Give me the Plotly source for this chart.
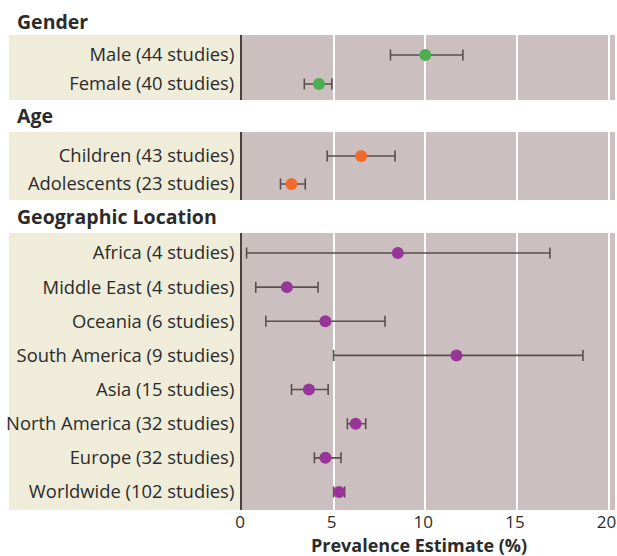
import plotly.graph_objects as go

# ---------------- data ----------------
gender_labels = ["Male (44 studies)", "Female (40 studies)"]
gender_est = [10.0, 4.2]
gender_lo = [8.1, 3.4]
gender_hi = [12.05, 4.9]

age_labels = ["Children (43 studies)", "Adolescents (23 studies)"]
age_est = [6.5, 2.7]
age_lo = [4.65, 2.1]
age_hi = [8.35, 3.45]

geo_labels = ["Africa (4 studies)", "Middle East (4 studies)", "Oceania (6 studies)",
              "South America (9 studies)", "Asia (15 studies)", "North America (32 studies)",
              "Europe (32 studies)", "Worldwide (102 studies)"]
geo_est = [8.5, 2.45, 4.55, 11.7, 3.65, 6.2, 4.55, 5.3]
geo_lo = [0.25, 0.75, 1.3, 5.0, 2.7, 5.75, 3.95, 5.0]
geo_hi = [16.8, 4.15, 7.8, 18.6, 4.7, 6.75, 5.4, 5.6]

section_titles = ["Gender", "Age", "Geographic Location"]
x_ticks = [0, 5, 10, 15, 20]
x_title = "Prevalence Estimate (%)"

# ---------------- styling ----------------
W, H = 617, 556
ML, MR, MT, MB = 242, 2, 35, 46
FONT = "Open Sans"
TXT = "#2b2b2b"
PLOT_BG = "#cbbfbf"
BEIGE = "#efecd9"
ERR = "#5a4e4e"
GREEN = "#4cae50"
ORANGE = "#f06a2c"
PURPLE = "#983598"

groups = [
    (gender_labels, gender_est, gender_lo, gender_hi, GREEN),
    (age_labels, age_est, age_lo, age_hi, ORANGE),
    (geo_labels, geo_est, geo_lo, geo_hi, PURPLE),
]
domains = [[0.8632, 1.0], [0.6526, 0.7958], [0.0, 0.5832]]
yranges = [[-0.55, 1.69], [-0.571, 1.857], [-0.527, 7.586]]
header_y = [1.0274, 0.8295, 0.6175]

fig = go.Figure()
plot_w = W - ML - MR
plot_h = H - MT - MB
beige_x0 = (9 - ML) / plot_w
header_x = (15 - ML) / plot_w
title_x = (419 - ML) / plot_w
title_y = -(545 - (H - MB)) / plot_h

for i, (labels, est, lo, hi, col) in enumerate(groups):
    n = i + 1
    xa = "x" if n == 1 else f"x{n}"
    ya = "y" if n == 1 else f"y{n}"
    fig.add_trace(go.Scatter(
        x=est, y=labels, xaxis=xa, yaxis=ya, mode="markers",
        marker=dict(color=col, size=12, line=dict(width=0)),
        error_x=dict(type="data", symmetric=False,
                     array=[h - e for h, e in zip(hi, est)],
                     arrayminus=[e - l for e, l in zip(est, lo)],
                     color=ERR, thickness=1.6, width=5.5),
        showlegend=False, hoverinfo="skip",
    ))
    xkey = "xaxis" if n == 1 else f"xaxis{n}"
    ykey = "yaxis" if n == 1 else f"yaxis{n}"
    fig.layout[xkey] = dict(
        domain=[0, 1], anchor=ya, range=[0, 20.35],
        tickvals=x_ticks, showticklabels=(n == 3),
        showgrid=True, gridcolor="white", gridwidth=1.5,
        zeroline=False, showline=False, ticks="",
        ticklabeloverflow="allow", automargin=False, ticklabelshift=-2,
        tickfont=dict(family=FONT, size=17, color=TXT),
        **({} if n == 1 else {"matches": "x"}),
    )
    fig.layout[ykey] = dict(
        domain=domains[i], anchor=xa, type="category",
        categoryorder="array", categoryarray=list(reversed(labels)),
        range=yranges[i], showgrid=False, zeroline=False,
        showline=True, linecolor="#4a4242", linewidth=2,
        ticks="", ticklabelstandoff=2, automargin=False,
        tickfont=dict(family=FONT, size=18.4, color=TXT),
    )
    fig.add_shape(type="rect", xref="paper", yref=f"{ya} domain",
                  x0=beige_x0, x1=0, y0=0, y1=1,
                  fillcolor=BEIGE, line=dict(width=0), layer="below")
    fig.add_annotation(text=f"<b>{section_titles[i]}</b>", xref="paper", yref="paper",
                       x=header_x, y=header_y[i], xanchor="left", yanchor="middle",
                       showarrow=False, font=dict(family=FONT, size=19.5, color=TXT))

fig.add_annotation(text=f"<b>{x_title}</b>", xref="paper", yref="paper",
                   x=title_x, y=title_y, xanchor="center", yanchor="middle",
                   showarrow=False, font=dict(family=FONT, size=18, color=TXT))

fig.update_layout(
    width=W, height=H,
    margin=dict(l=ML, r=MR, t=MT, b=MB, autoexpand=False),
    paper_bgcolor="white", plot_bgcolor=PLOT_BG,
    font=dict(family=FONT, color=TXT),
)

# remove the default 8px page margin so the 617x556 figure fills the window exactly
fig.write_html("out.html",
               config={"displayModeBar": False},
               post_script="document.body.style.margin='0';"
                           "document.documentElement.style.overflow='hidden';")
